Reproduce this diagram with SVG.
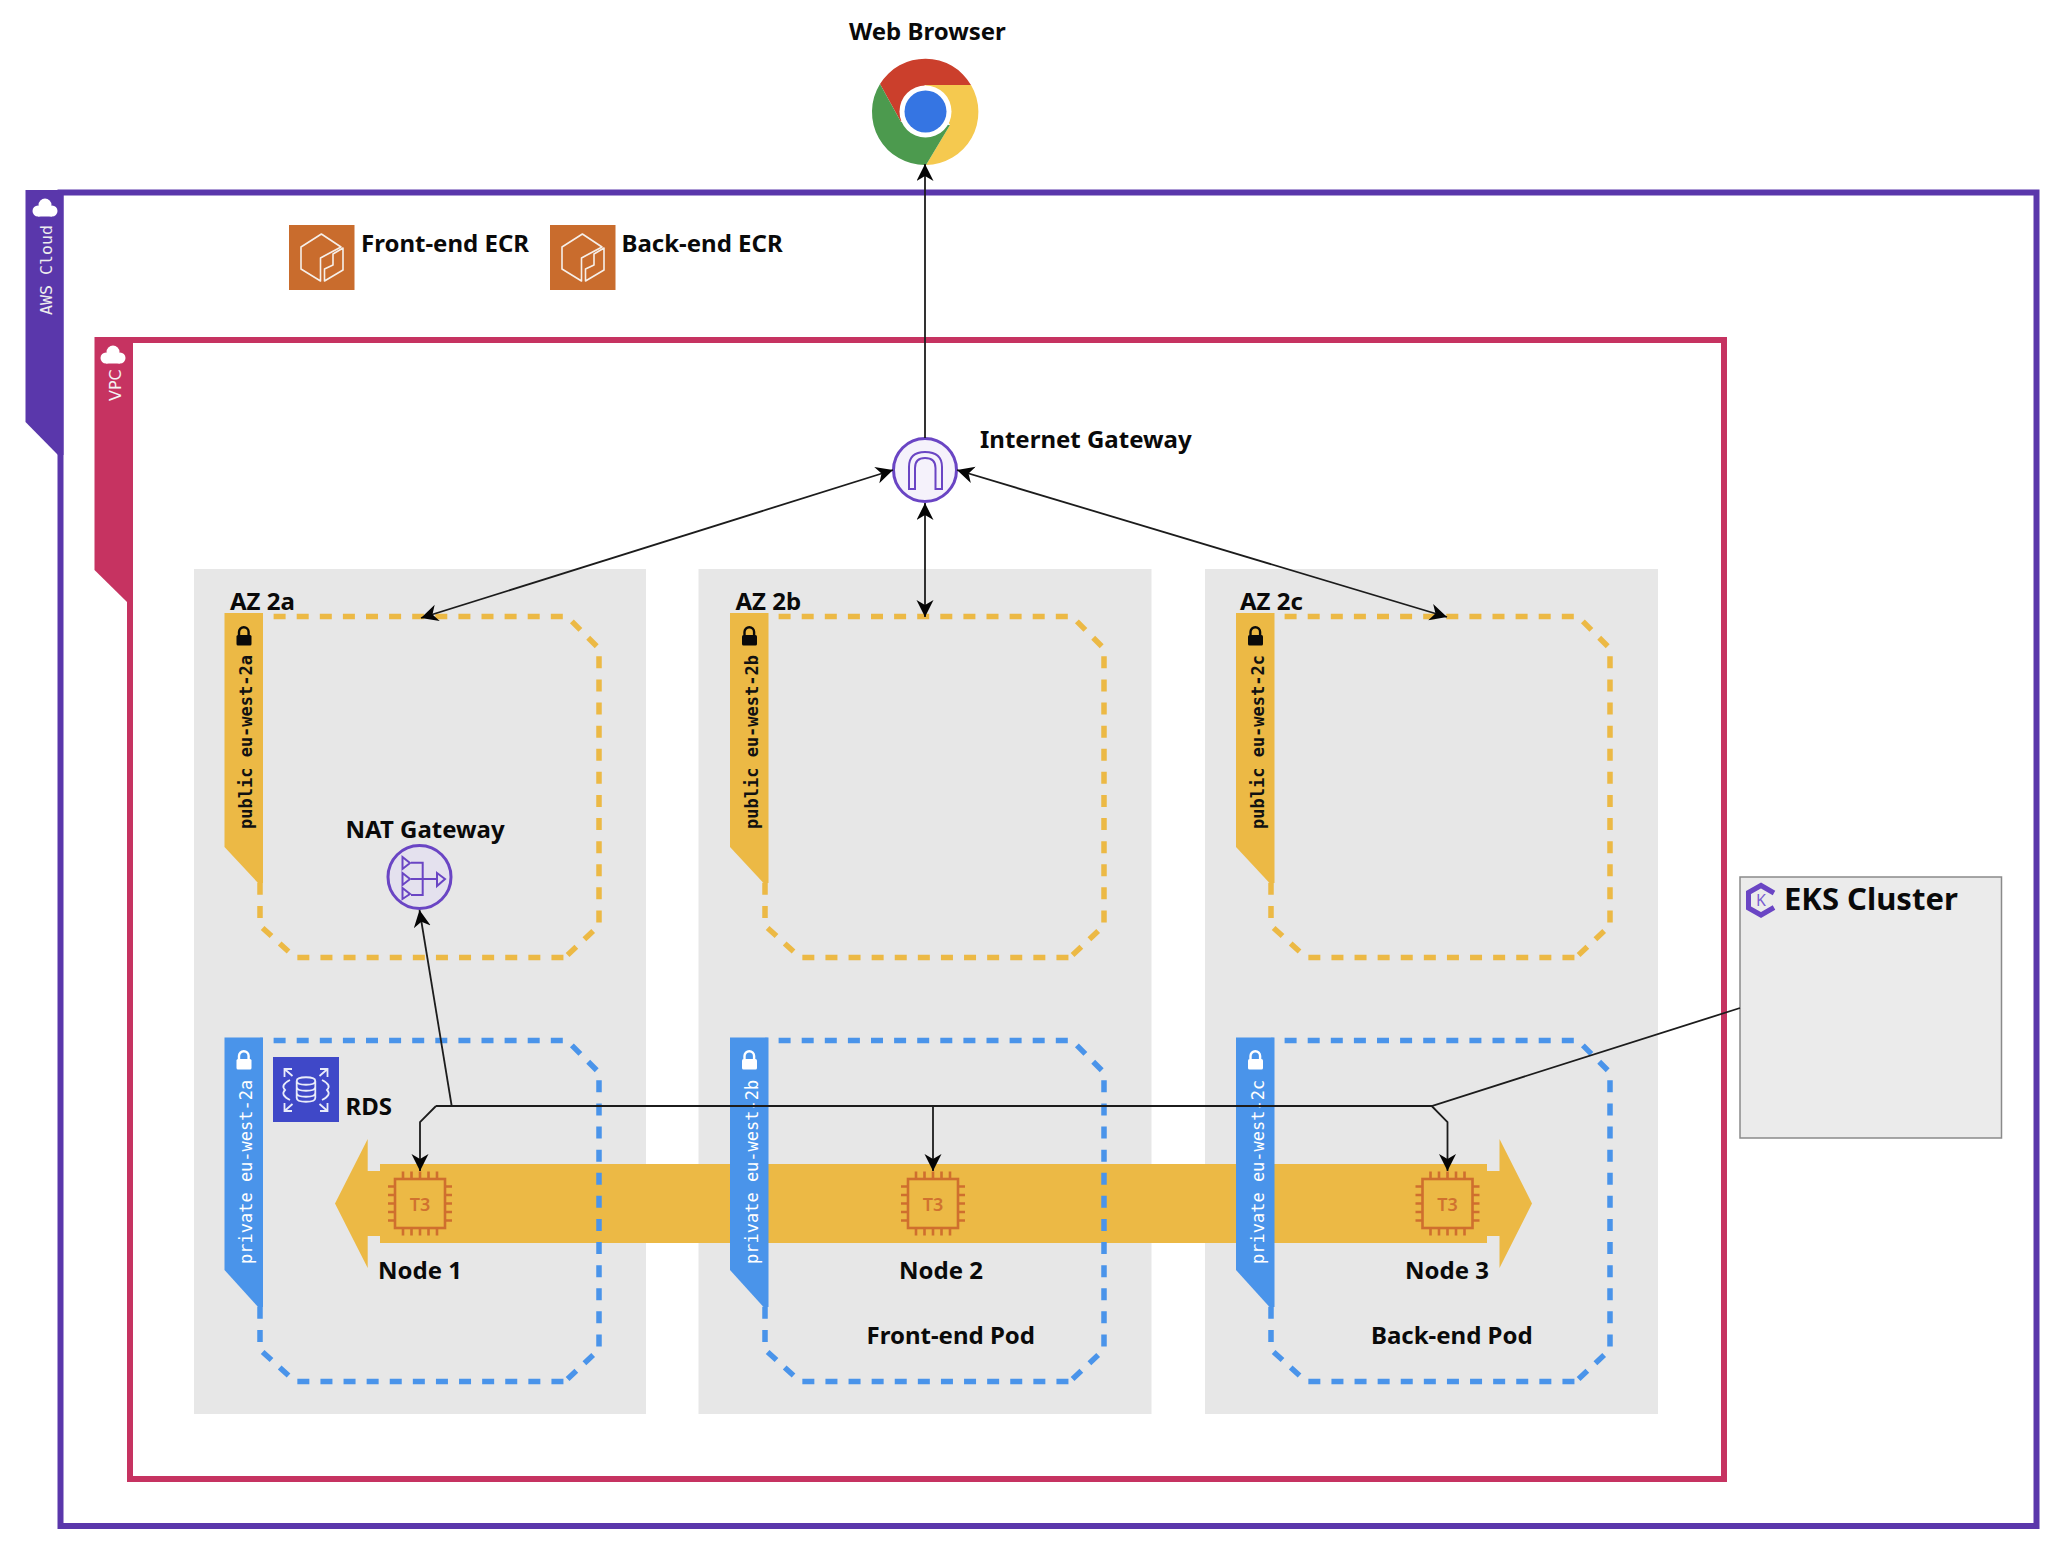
<svg xmlns="http://www.w3.org/2000/svg" width="2056" height="1546" viewBox="0 0 2056 1546">
<style>
.lb{font-family:"Noto Sans","Open Sans","DejaVu Sans",sans-serif;font-weight:700;font-size:24px;fill:#0a0a0a}
.mono{font-family:"DejaVu Sans Mono","Liberation Mono",monospace;font-size:17px}
.t3{font-family:"Noto Sans",sans-serif;font-weight:600;font-size:18px;fill:#d0722f;text-anchor:middle}
.az{fill:#e7e7e7}
.dash{fill:none;stroke-width:5.5;stroke-dasharray:12 11.1;stroke-dashoffset:9.5}
.y{stroke:#ecb945}.b{stroke:#4a94ea}
.tabY{fill:#ecb945}.tabB{fill:#4a94ea}
.con{fill:none;stroke:#1c1c1c;stroke-width:1.8}
.arr{marker-end:url(#ah)}
.both{marker-start:url(#ah);marker-end:url(#ah)}
.pu{fill:none;stroke:#6a45c4;stroke-width:2}
.wl{fill:none;stroke:#f6efe9;stroke-width:1.6;stroke-linejoin:round}
.wr{fill:none;stroke:#e9ecfa;stroke-width:1.8}
.ch{fill:none;stroke:#cf6f2e;stroke-width:2.6}
</style>
<defs>
<marker id="ah" markerUnits="userSpaceOnUse" markerWidth="18" markerHeight="18" refX="17" refY="8.5" orient="auto-start-reverse">
<path d="M17,8.5 L0,0 L5,8.5 L0,17 Z" fill="#050505"/>
</marker>
<g id="cloud"><circle cx="0" cy="-3" r="6.5"/><circle cx="-7" cy="3" r="5.5"/><circle cx="7" cy="3" r="5.5"/><rect x="-7" y="2" width="14" height="6.5"/></g>
<g id="lock"><path d="M-5,-1 V-4 A4.6,4.6 0 0 1 4.6,-4 V-1" fill="none" stroke="currentColor" stroke-width="2.4"/><rect x="-7.5" y="-1" width="15" height="10.5" rx="1.5" fill="currentColor"/></g>
<path id="box" d="M0,0 H307 L339,32 V309 L305,341 H302 H305 H35 L0,309 V0"/>
<g id="chip">
<rect x="-25" y="-24.5" width="50" height="49" fill="none" stroke="#cf6f2e" stroke-width="2.6"/>
<path class="ch" d="M-17,-32V-24M-8.5,-32V-24M0,-32V-24M8.5,-32V-24M17,-32V-24M-17,24V32M-8.5,24V32M0,24V32M8.5,24V32M17,24V32M-32,-17H-25M-32,-8.5H-25M-32,0H-25M-32,8.5H-25M-32,17H-25M25,-17H32M25,-8.5H32M25,0H32M25,8.5H32M25,17H32"/>
</g>
<g id="ecr">
<rect x="0" y="0" width="65.5" height="65" fill="#c96c2d"/>
<path class="wl" d="M32.4,9 L12,22 V44 L31.5,56 V33 L37,30 L52,22 Z"/>
<path class="wl" d="M35.5,56 L54,45 V23 L44,29 V40 L35.5,44 Z"/>
</g>
</defs>
<rect width="2056" height="1546" fill="#fff"/>

<g id="aws-cloud">
<rect x="60.5" y="192.5" width="1976" height="1333.5" fill="none" stroke="#5a37ab" stroke-width="6"/>
<path d="M25.5,190 H63.5 V455 H58 L25.5,422 Z" fill="#5a37ab"/>
<use href="#cloud" x="45" y="208" fill="#fff"/>
<text class="mono" transform="translate(52,315) rotate(-90)" fill="#eee" style="font-size:16.6px">AWS Cloud</text>
</g>

<g id="vpc">
<rect x="130" y="340" width="1594" height="1139" fill="none" stroke="#c63361" stroke-width="6"/>
<path d="M94.5,337 H133 V602 H127 L94.5,570 Z" fill="#c63361"/>
<use href="#cloud" x="113" y="355" fill="#fff"/>
<text transform="translate(120.5,401) rotate(-90)" fill="#f4f4f4" font-family="'DejaVu Sans',sans-serif" font-size="16">VPC</text>
</g>

<g id="az-2a"><rect class="az" x="194" y="569" width="452" height="845"/><text class="lb" x="230" y="610">AZ 2a</text></g>
<g id="az-2b"><rect class="az" x="698.5" y="569" width="453" height="845"/><text class="lb" x="735.5" y="610">AZ 2b</text></g>
<g id="az-2c"><rect class="az" x="1205" y="569" width="453" height="845"/><text class="lb" x="1240" y="610">AZ 2c</text></g>

<g id="pod-band">
<path d="M335,1203.5 L367.7,1139 V1171 H380 V1164 H1487 V1171 H1499.5 V1139 L1532,1203.5 L1499.5,1268 V1236 H1487 V1243 H380 V1236 H367.7 V1268 Z" fill="#ecb945"/>
</g>

<g id="subnet-public-2a">
<use href="#box" x="260" y="616.5" class="dash y"/>
<path class="tabY" d="M224.5,613 H263 V883 H258 L224.5,847 Z"/>
<use href="#lock" x="244" y="636" color="#0a0a0a"/>
<text class="mono" transform="translate(252,829) rotate(-90)" fill="#111" font-weight="700">public eu-west-2a</text>
</g>
<g id="subnet-public-2b">
<use href="#box" x="765" y="616.5" class="dash y"/>
<path class="tabY" d="M730,613 H768.5 V883 H763.5 L730,847 Z"/>
<use href="#lock" x="749.5" y="636" color="#0a0a0a"/>
<text class="mono" transform="translate(757.5,829) rotate(-90)" fill="#111" font-weight="700">public eu-west-2b</text>
</g>
<g id="subnet-public-2c">
<use href="#box" x="1271" y="616.5" class="dash y"/>
<path class="tabY" d="M1236,613 H1274.5 V883 H1269.5 L1236,847 Z"/>
<use href="#lock" x="1255.5" y="636" color="#0a0a0a"/>
<text class="mono" transform="translate(1263.5,829) rotate(-90)" fill="#111" font-weight="700">public eu-west-2c</text>
</g>
<g id="subnet-private-2a">
<use href="#box" x="260" y="1040.5" class="dash b"/>
<path class="tabB" d="M224.5,1037.5 H263 V1307 H258 L224.5,1270 Z"/>
<use href="#lock" x="244" y="1060" color="#fff"/>
<text class="mono" transform="translate(252,1264) rotate(-90)" fill="#fff">private eu-west-2a</text>
</g>
<g id="subnet-private-2b">
<use href="#box" x="765" y="1040.5" class="dash b"/>
<path class="tabB" d="M730,1037.5 H768.5 V1307 H763.5 L730,1270 Z"/>
<use href="#lock" x="749.5" y="1060" color="#fff"/>
<text class="mono" transform="translate(757.5,1264) rotate(-90)" fill="#fff">private eu-west-2b</text>
</g>
<g id="subnet-private-2c">
<use href="#box" x="1271" y="1040.5" class="dash b"/>
<path class="tabB" d="M1236,1037.5 H1274.5 V1307 H1269.5 L1236,1270 Z"/>
<use href="#lock" x="1255.5" y="1060" color="#fff"/>
<text class="mono" transform="translate(1263.5,1264) rotate(-90)" fill="#fff">private eu-west-2c</text>
</g>

<g id="web-browser">
<path d="M880,84 A53,53 0 0 1 971,85 H925 L901,122 Z" fill="#cb3f2c"/>
<path d="M971,85 A53,53 0 0 1 926,165 L950,125 L925,85 Z" fill="#f5c94f"/>
<path d="M880,84 A53,53 0 0 0 926,165 L950,125 L901,122 Z" fill="#4c9a4e"/>
<circle cx="925.5" cy="111.5" r="26" fill="#fff"/>
<circle cx="925.5" cy="111.5" r="21" fill="#3575e3"/>
<text class="lb" x="849" y="40">Web Browser</text>
</g>

<g id="front-end-ecr"><use href="#ecr" x="289" y="225"/><text class="lb" x="361" y="252">Front-end ECR</text></g>
<g id="back-end-ecr"><use href="#ecr" x="550" y="225"/><text class="lb" x="621.5" y="252">Back-end ECR</text></g>

<g id="internet-gateway">
<circle cx="925" cy="470" r="31.5" fill="#f5f2fb" stroke="#6a45c4" stroke-width="3"/>
<path class="pu" d="M909,489 V467 Q909,452 925,452 Q942,452 942,467 V489 H935.5 V468 Q935.5,458 925,458 Q915,458 915,468 V489 Z"/>
<text class="lb" x="980" y="447.5">Internet Gateway</text>
</g>

<g id="nat-gateway">
<circle cx="419.5" cy="877" r="31.5" fill="#e4e1ee" stroke="#6a45c4" stroke-width="3"/>
<path class="pu" d="M402.5,857 L410,863 L402.5,869 Z M402.5,873 L410,879 L402.5,885 Z M402.5,888 L410,894 L402.5,899 Z M411,862.7 H422.7 V895 H411 M411,879 H437 M437,873 L445,879 L437,886 Z"/>
<text class="lb" x="345.5" y="838">NAT Gateway</text>
</g>

<g id="rds">
<rect x="273" y="1057" width="66" height="65" fill="#3f48c8"/>
<path class="wr" d="M296.7,1081 V1098 C296.7,1103 315.3,1103 315.3,1098 V1081 M296.7,1081 C296.7,1076 315.3,1076 315.3,1081 C315.3,1086 296.7,1086 296.7,1081 M296.7,1087 C296.7,1092 315.3,1092 315.3,1087 M296.7,1093 C296.7,1098 315.3,1098 315.3,1093"/>
<path class="wr" d="M290,1080 Q280,1085 285,1090 Q280,1095 290,1100 M322,1080 Q332,1085 327,1090 Q332,1095 322,1100"/>
<path class="wr" d="M292.5,1076 L284.5,1069 M284.5,1077 V1069 H292 M319.5,1076 L327.5,1069 M327.5,1077 V1069 H320 M292.5,1104 L284.5,1111 M284.5,1103 V1111 H292 M319.5,1104 L327.5,1111 M327.5,1103 V1111 H320"/>
<text class="lb" x="345.5" y="1115">RDS</text>
</g>

<g id="node-1"><use href="#chip" x="420" y="1203.5"/><text class="t3" x="420" y="1210.5">T3</text><text class="lb" x="378" y="1279">Node 1</text></g>
<g id="node-2"><use href="#chip" x="933" y="1203.5"/><text class="t3" x="933" y="1210.5">T3</text><text class="lb" x="899" y="1279">Node 2</text></g>
<g id="node-3"><use href="#chip" x="1447.5" y="1203.5"/><text class="t3" x="1447.5" y="1210.5">T3</text><text class="lb" x="1405" y="1279">Node 3</text></g>

<g id="front-end-pod"><text class="lb" x="866.5" y="1344">Front-end Pod</text></g>
<g id="back-end-pod"><text class="lb" x="1371" y="1344">Back-end Pod</text></g>

<g id="eks-cluster">
<rect x="1740" y="877" width="261.5" height="261" fill="#ebebeb" stroke="#8a8a8a" stroke-width="1.5"/>
<path d="M1774,893 L1761,885.5 L1748.5,892.5 V908 L1761,915 L1774,907.5" fill="none" stroke="#6a45c4" stroke-width="5"/>
<text x="1761" y="906" text-anchor="middle" font-family="'Noto Sans',sans-serif" font-size="16" fill="#7a5bd0">K</text>
<text class="lb" x="1784" y="910" style="font-size:31px">EKS Cluster</text>
</g>

<g id="connectors">
<path class="con arr" d="M925,438 V164"/>
<path class="con both" d="M925,503 V617"/>
<path class="con both" d="M893,470 L421,618"/>
<path class="con both" d="M957,470 L1447,617"/>
<path class="con arr" d="M451.7,1106 L419.5,910"/>
<path class="con" d="M1740,1008 L1431.7,1106 H436"/>
<path class="con arr" d="M436,1106 L420,1122 V1171"/>
<path class="con arr" d="M933,1106 V1171"/>
<path class="con arr" d="M1431.7,1106 L1447.5,1122 V1171"/>
</g>
</svg>
